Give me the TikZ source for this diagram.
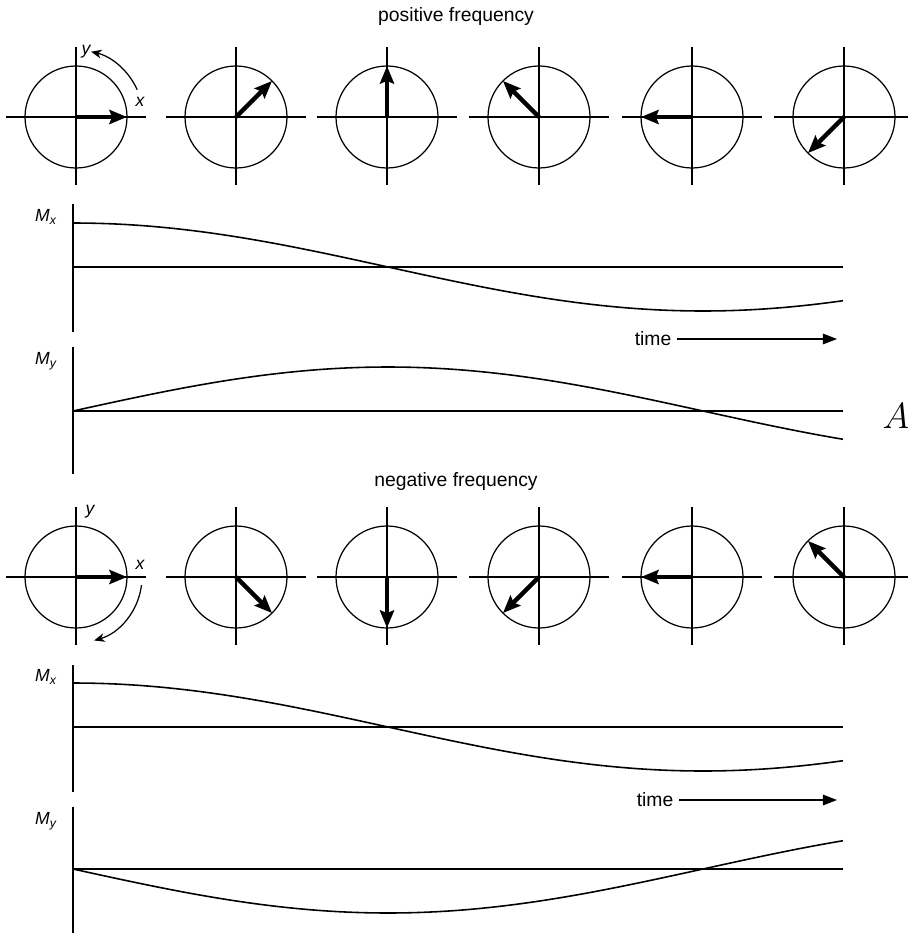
\documentclass[tikz,border=0pt]{standalone}
\usepackage{fontspec}
\setmainfont{Liberation Sans}
\usetikzlibrary{arrows.meta,calc}

\begin{document}
\begin{tikzpicture}[x=0.02cm,y=0.02cm,
  vec/.style={line width=2.5pt,-{Stealth[length=10pt,width=8pt,inset=1.5pt]}},
  axis/.style={line width=0.9pt},
  ring/.style={line width=0.7pt},
  curve/.style={line width=0.9pt},
  turn/.style={line width=0.7pt,-{Stealth[length=6pt,width=5pt]}},
  lbl/.style={font=\fontsize{10}{11}\selectfont\itshape},
  ttl/.style={font=\fontsize{11}{13}\selectfont}]

\useasboundingbox (0,0) rectangle (908,-933);

% positive frequency
\node[ttl] (ptitle) at (456,-17) {positive frequency};

\foreach \cx/\ang [count=\i] in {76/0,236/45,387/90,539/135,692/180,844/225}{
  \coordinate (p\i) at (\cx,-117);
  \draw[axis] ($(p\i)+(-70,0)$) -- ($(p\i)+(70,0)$);
  \draw[axis] ($(p\i)+(0,70)$) -- ($(p\i)+(0,-68)$);
  \draw[ring] (p\i) circle (51);
  \draw[vec] (p\i) -- ++(\ang:51);
}
\draw[turn] ($(p1)+(24:67)$) arc (24:77:67);
\node[lbl] (px) at (140,-102) {x};
\node[lbl] (py) at (86,-52) {y};

\coordinate (pmx) at (73,-267);
\coordinate (pmy) at (73,-411);
\draw[axis] ($(pmx)+(0,63)$) -- ($(pmx)+(0,-65)$);
\draw[axis] (pmx) -- ++(770,0);
\draw[curve,shift={(pmx)}] plot[domain=0:770,samples=90] (\x,{44*cos(\x/3.5)});
\node[lbl] (pmxl) at (46,-217) {M\textsubscript{x}};

\draw[axis] ($(pmy)+(0,64)$) -- ($(pmy)+(0,-63)$);
\draw[axis] (pmy) -- ++(770,0);
\draw[curve,shift={(pmy)}] plot[domain=0:770,samples=90] (\x,{44*sin(\x/3.5)});
\node[lbl] (pmyl) at (46,-361) {M\textsubscript{y}};

\node[ttl] (ptime) at (653,-339) {time};
\coordinate (ptend) at (837,-339);
\draw[line width=0.7pt,-{Triangle[length=8pt,width=6pt]}] (ptime.east) -- (ptend);

\node[font=\fontsize{20}{24}\selectfont] (lA) at (896,-416) {$A$};

% negative frequency
\node[ttl] (ntitle) at (456,-481) {negative frequency};

\foreach \cx/\ang [count=\i] in {76/0,236/-45,387/-90,539/-135,692/180,844/135}{
  \coordinate (n\i) at (\cx,-577);
  \draw[axis] ($(n\i)+(-70,0)$) -- ($(n\i)+(70,0)$);
  \draw[axis] ($(n\i)+(0,70)$) -- ($(n\i)+(0,-68)$);
  \draw[ring] (n\i) circle (51);
  \draw[vec] (n\i) -- ++(\ang:51);
}
\draw[turn] ($(n1)+(-7:66)$) arc (-7:-74:66);
\node[lbl] (nx) at (140,-565) {x};
\node[lbl] (ny) at (90,-512) {y};

\coordinate (nmx) at (73,-727);
\coordinate (nmy) at (73,-869);
\draw[axis] ($(nmx)+(0,62)$) -- ($(nmx)+(0,-65)$);
\draw[axis] (nmx) -- ++(770,0);
\draw[curve,shift={(nmx)}] plot[domain=0:770,samples=90] (\x,{44*cos(\x/3.5)});
\node[lbl] (nmxl) at (46,-677) {M\textsubscript{x}};

\draw[axis] ($(nmy)+(0,62)$) -- ($(nmy)+(0,-64)$);
\draw[axis] (nmy) -- ++(770,0);
\draw[curve,shift={(nmy)}] plot[domain=0:770,samples=90] (\x,{-44*sin(\x/3.5)});
\node[lbl] (nmyl) at (46,-821) {M\textsubscript{y}};

\node[ttl] (ntime) at (655,-800) {time};
\coordinate (ntend) at (837,-800);
\draw[line width=0.7pt,-{Triangle[length=8pt,width=6pt]}] (ntime.east) -- (ntend);

\end{tikzpicture}
\end{document}
